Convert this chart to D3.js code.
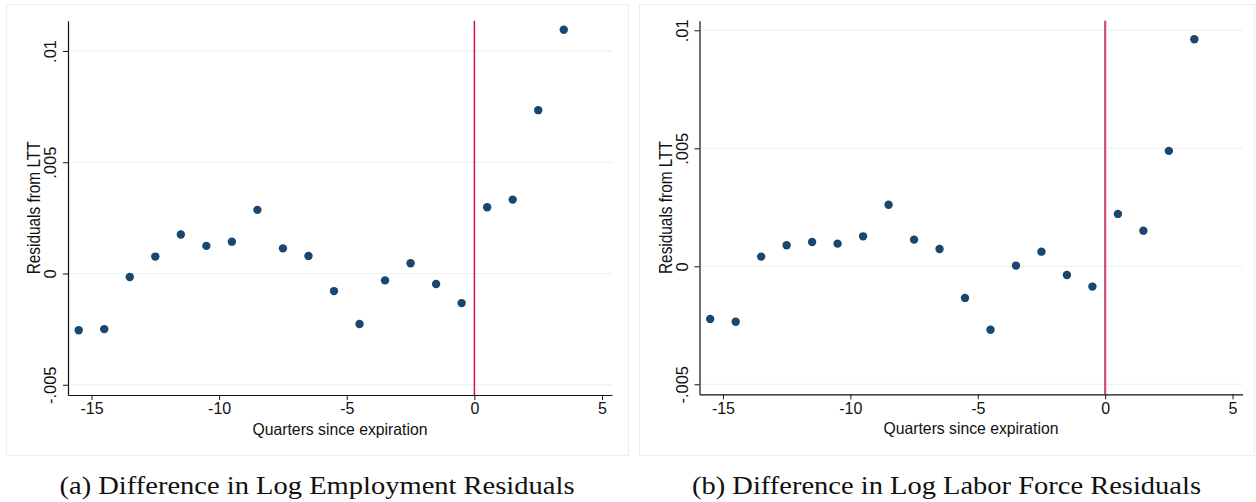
<!DOCTYPE html>
<html>
<head>
<meta charset="utf-8">
<script src="https://cdn.jsdelivr.net/npm/d3@7"></script>
<style>
  body { margin: 0; background: #fff; }
  svg { display: block; }
</style>
</head>
<body>
<svg id="chart" width="1256" height="502"></svg>
<script>
// quarters relative to expiration (bin midpoints)
const quarters = [-15.5, -14.5, -13.5, -12.5, -11.5, -10.5, -9.5, -8.5, -7.5, -6.5,
                  -5.5, -4.5, -3.5, -2.5, -1.5, -0.5, 0.5, 1.5, 2.5, 3.5];

// (a) log employment residuals
const empResid = [-0.00255, -0.00250, -0.00016, 0.00076, 0.00175, 0.00124, 0.00143, 0.00286,
                  0.00113, 0.00079, -0.00079, -0.00227, -0.00031, 0.00046, -0.00047, -0.00133,
                  0.00298, 0.00332, 0.00734, 0.01095];

// (b) log labor force residuals
const lfResid = [-0.00223, -0.00235, 0.00041, 0.00089, 0.00103, 0.00096, 0.00127, 0.00261,
                 0.00113, 0.00073, -0.00134, -0.00269, 0.00003, 0.00062, -0.00037, -0.00086,
                 0.00222, 0.00151, 0.00489, 0.00962];

const xTicks = [-15, -10, -5, 0, 5];
const yTicks = [-0.005, 0, 0.005, 0.01];
const yTickLabels = ["-.005", "0", ".005", ".01"];

const svg = d3.select("#chart");
const sans = "'Liberation Sans', Arial, sans-serif";

const panels = [
  { x0: 6, x1: 628, left: 68, right: 612, top: 20.7, bottom: 395,
    ydom: [-0.00546, 0.01136], values: empResid, line: "#d4134a", lineW: 1.5,
    caption: "(a) Difference in Log Employment Residuals", capLen: 515 },
  { x0: 639, x1: 1254, left: 699.5, right: 1242.5, top: 20.7, bottom: 394.3,
    ydom: [-0.005424, 0.010407], values: lfResid, line: "#d24e70", lineW: 2.2,
    caption: "(b) Difference in Log Labor Force Residuals", capLen: 509 }
];

panels.forEach(p => drawPanel(p));

function drawPanel(p) {
  const g = svg.append("g");

  // graph region outline
  g.append("rect")
    .attr("x", p.x0 + 0.5).attr("y", 4.5)
    .attr("width", p.x1 - p.x0).attr("height", 451)
    .attr("fill", "#fff")
    .attr("stroke", "#e8f0f0");

  const x = d3.scaleLinear().domain([-15.92, 5.39]).range([p.left, p.right]);
  const y = d3.scaleLinear().domain(p.ydom).range([p.bottom, p.top]);

  // gridlines
  g.selectAll(".grid")
    .data(yTicks)
    .enter()
    .append("line")
    .attr("x1", p.left).attr("x2", p.right)
    .attr("y1", d => y(d)).attr("y2", d => y(d))
    .attr("stroke", "#eaf2f3")
    .attr("stroke-width", 1.2);

  // vertical line at expiration
  g.append("line")
    .attr("x1", x(0)).attr("x2", x(0))
    .attr("y1", p.top).attr("y2", p.bottom)
    .attr("stroke", p.line)
    .attr("stroke-width", p.lineW);

  // x axis
  const xAxis = d3.axisBottom(x).tickValues(xTicks).tickSize(5).tickSizeOuter(0).tickFormat(d3.format("d"));
  const gx = g.append("g")
    .attr("transform", `translate(0, ${p.bottom})`)
    .call(xAxis);
  gx.select(".domain").attr("stroke", "#111").attr("stroke-width", 1.2);
  gx.selectAll(".tick line").attr("stroke", "#111");
  gx.selectAll(".tick text")
    .attr("font-family", sans)
    .attr("font-size", 16)
    .attr("fill", "#111")
    .attr("y", 5)
    .attr("dy", "0.9em")
    .text(d => d < 0 ? "-" + Math.abs(d) : d);

  // y axis
  const yAxis = d3.axisLeft(y).tickValues(yTicks).tickSize(5).tickSizeOuter(0)
    .tickFormat((d, i) => yTickLabels[i]);
  const gy = g.append("g")
    .attr("transform", `translate(${p.left}, 0)`)
    .call(yAxis);
  gy.select(".domain").attr("stroke", "#111").attr("stroke-width", 1.2);
  gy.selectAll(".tick line").attr("stroke", "#111");
  gy.selectAll(".tick text")
    .attr("font-family", sans)
    .attr("font-size", 16.5)
    .attr("fill", "#111")
    .attr("text-anchor", "middle")
    .attr("x", 0).attr("dy", 0)
    .attr("transform", "translate(-12, 0) rotate(-90)");

  // axis titles
  g.append("text")
    .attr("x", (p.left + p.right) / 2)
    .attr("y", p.bottom + 39.5)
    .attr("text-anchor", "middle")
    .attr("font-family", sans)
    .attr("font-size", 16.5)
    .attr("fill", "#111")
    .attr("textLength", 175)
    .attr("lengthAdjust", "spacingAndGlyphs")
    .text("Quarters since expiration");

  g.append("text")
    .attr("transform", `translate(${p.left - 28}, ${(p.top + p.bottom) / 2}) rotate(-90)`)
    .attr("text-anchor", "middle")
    .attr("font-family", sans)
    .attr("font-size", 17.5)
    .attr("fill", "#111")
    .attr("textLength", 133)
    .attr("lengthAdjust", "spacingAndGlyphs")
    .text("Residuals from LTT");

  // markers
  g.selectAll(".dot")
    .data(p.values)
    .enter()
    .append("circle")
    .attr("cx", (d, i) => x(quarters[i]))
    .attr("cy", d => y(d))
    .attr("r", 4.2)
    .attr("fill", "#1a476f");

  // caption
  g.append("text")
    .attr("x", (p.x0 + p.x1) / 2)
    .attr("y", 494)
    .attr("text-anchor", "middle")
    .attr("font-family", "'Liberation Serif', 'DejaVu Serif', serif")
    .attr("font-size", 25)
    .attr("fill", "#111")
    .attr("textLength", p.capLen)
    .attr("lengthAdjust", "spacingAndGlyphs")
    .text(p.caption);
}
</script>
</body>
</html>
